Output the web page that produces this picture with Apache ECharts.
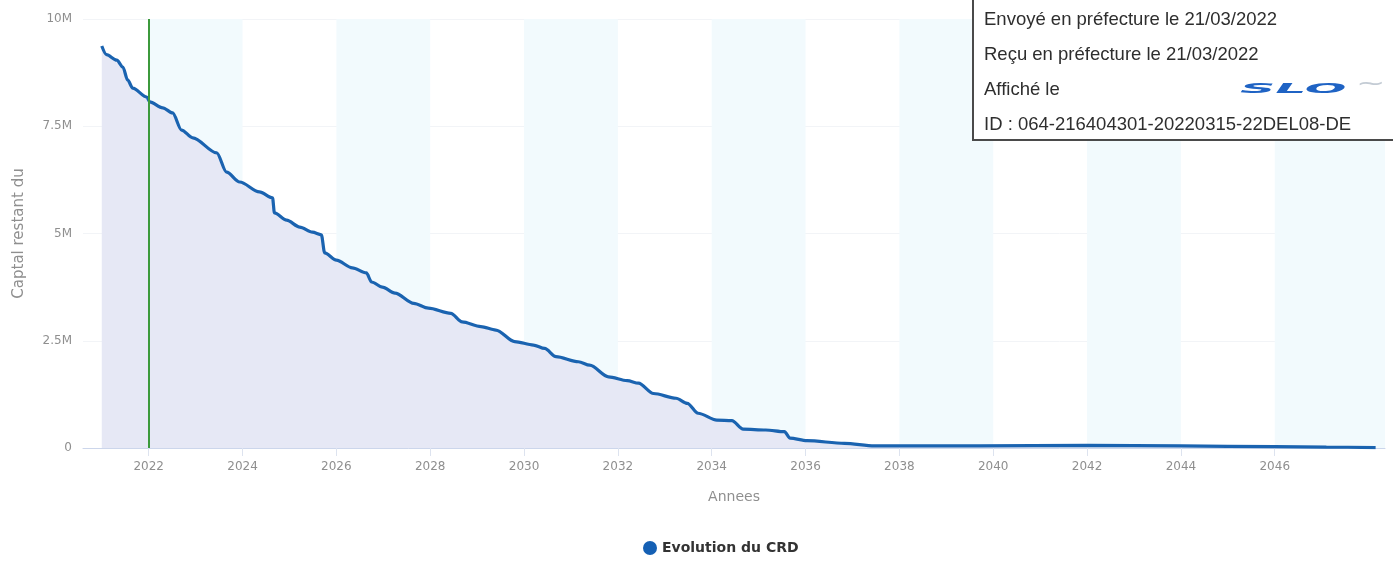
<!DOCTYPE html>
<html>
<head>
<meta charset="utf-8">
<title>Evolution du CRD</title>
<script src="https://cdn.jsdelivr.net/npm/echarts@6/dist/echarts.min.js"></script>
<style>
  html, body { margin: 0; padding: 0; background: #ffffff; }
  #chart { width: 1393px; height: 562px; }
</style>
</head>
<body>
<div id="chart"></div>
<script>
// Capital restant dû (en millions d'euros), relevé par date décimale
const years = [
  2021.00, 2021.10, 2021.32, 2021.45, 2021.55, 2021.66, 2021.96, 2022.02,
  2022.30, 2022.51, 2022.70, 2022.94, 2023.45, 2023.66, 2023.94, 2024.36,
  2024.64, 2024.68, 2024.94, 2025.22, 2025.49, 2025.68, 2025.75, 2026.00,
  2026.34, 2026.64, 2026.75, 2026.98, 2027.25, 2027.65, 2027.96, 2028.44,
  2028.68, 2029.08, 2029.40, 2029.80, 2030.20, 2030.44, 2030.68, 2031.16,
  2031.40, 2031.80, 2032.20, 2032.44, 2032.76, 2033.24, 2033.48, 2033.71,
  2034.11, 2034.43, 2034.67, 2035.15, 2035.55, 2035.67, 2036.03, 2036.83,
  2037.47, 2039.70, 2042.00, 2044.00, 2046.00, 2047.10, 2048.15
];
const crd = [
  9.37, 9.17, 9.04, 8.88, 8.58, 8.39, 8.18, 8.07,
  7.93, 7.81, 7.41, 7.23, 6.88, 6.43, 6.20, 5.97,
  5.83, 5.48, 5.31, 5.15, 5.03, 4.97, 4.55, 4.38,
  4.20, 4.08, 3.87, 3.75, 3.61, 3.37, 3.26, 3.14,
  2.94, 2.83, 2.75, 2.48, 2.40, 2.32, 2.13, 2.01,
  1.93, 1.66, 1.57, 1.51, 1.27, 1.16, 1.04, 0.81,
  0.65, 0.64, 0.44, 0.42, 0.38, 0.23, 0.17, 0.11,
  0.05, 0.05, 0.06, 0.05, 0.03, 0.02, 0.01
];
const tickYears = [2022, 2024, 2026, 2028, 2030, 2032, 2034, 2036, 2038, 2040, 2042, 2044, 2046];
const bandRanges = [[2022, 2024], [2026, 2028], [2030, 2032], [2034, 2036], [2038, 2040], [2042, 2044], [2046, 2048.35]];
const markerYear = 2022;
const stampLines = [
  'Envoyé en préfecture le 21/03/2022',
  'Reçu en préfecture le 21/03/2022',
  'Affiché le',
  'ID : 064-216404301-20220315-22DEL08-DE'
];

const seriesData = years.map((y, i) => [y, crd[i] * 1e6]);

const chart = echarts.init(document.getElementById('chart'), null, { renderer: 'canvas' });

const labelFont = 'DejaVu Sans';

chart.setOption({
  animation: false,
  backgroundColor: '#ffffff',
  grid: { left: 83, right: 8, top: 19, bottom: 114, containLabel: false },
  xAxis: {
    type: 'value',
    min: 2020.6,
    max: 2048.35,
    name: 'Annees',
    nameLocation: 'middle',
    nameGap: 42,
    nameTextStyle: { color: '#8f8f8f', fontSize: 14, fontFamily: labelFont },
    axisLine: { show: true, lineStyle: { color: '#ccd6eb', width: 1 } },
    axisTick: { show: true, length: 8, lineStyle: { color: '#dde3ef' }, customValues: tickYears },
    axisLabel: {
      color: '#8f8f8f', fontSize: 12, fontFamily: labelFont, margin: 13,
      customValues: tickYears,
      formatter: v => String(Math.round(v))
    },
    splitLine: { show: false }
  },
  yAxis: {
    type: 'value',
    min: 0,
    max: 10e6,
    interval: 2.5e6,
    name: 'Captal restant du',
    nameLocation: 'middle',
    nameGap: 56,
    nameTextStyle: { color: '#8f8f8f', fontSize: 15, fontFamily: labelFont },
    axisLine: { show: false },
    axisTick: { show: false },
    axisLabel: {
      color: '#8f8f8f', fontSize: 12, fontFamily: labelFont, margin: 11,
      formatter: v => v === 0 ? '0' : (v / 1e6) + 'M'
    },
    splitLine: { show: true, lineStyle: { color: '#f2f4f7', width: 1 } }
  },
  legend: {
    data: [{ name: 'Evolution du CRD', icon: 'circle' }],
    left: 638,
    top: 536,
    itemWidth: 14,
    itemHeight: 14,
    itemGap: 8,
    textStyle: { color: '#333333', fontSize: 14, fontWeight: 'bold', fontFamily: labelFont }
  },
  series: [
    {
      // bandes verticales alternées, derrière la courbe
      name: 'bandes',
      type: 'line',
      data: [],
      z: 1,
      silent: true,
      markArea: {
        silent: true,
        itemStyle: { color: '#f2fafd' },
        data: bandRanges.map(r => [{ xAxis: r[0] }, { xAxis: r[1] }])
      }
    },
    {
      name: 'Evolution du CRD',
      type: 'line',
      data: seriesData,
      z: 3,
      showSymbol: false,
      symbol: 'circle',
      smooth: 0.3,
      smoothMonotone: 'x',
      itemStyle: { color: '#1560b4' },
      lineStyle: { color: '#1a63b0', width: 3.2 },
      areaStyle: { color: '#e6e8f5', opacity: 1 },
      markLine: {
        silent: true,
        symbol: ['none', 'none'],
        label: { show: false },
        lineStyle: { color: '#3c9a3c', width: 2, type: 'solid' },
        data: [{ xAxis: markerYear }]
      }
    }
  ],
  graphic: [
    {
      type: 'rect',
      z: 100,
      shape: { x: 973, y: -4, width: 440, height: 144 },
      style: { fill: '#ffffff', stroke: '#4a4a4a', lineWidth: 2 }
    },
    ...stampLines.map((t, i) => ({
      type: 'text',
      z: 101,
      x: 984,
      y: [20, 55, 90, 125][i],
      style: {
        text: t,
        fill: '#2e2e2e',
        font: '18.5px "Liberation Sans", Arial, sans-serif',
        verticalAlign: 'middle'
      }
    })),
    {
      type: 'text',
      z: 101,
      x: 1240,
      y: 89,
      scaleX: 3.5,
      style: {
        text: 'SLO',
        fill: '#1f63c4',
        font: 'italic 900 14px "DejaVu Sans", sans-serif',
        verticalAlign: 'middle'
      }
    },
    {
      type: 'text',
      z: 101,
      x: 1356,
      y: 84,
      scaleX: 1.6,
      style: {
        text: '~',
        fill: '#c3cbd4',
        font: '22px "DejaVu Sans", sans-serif',
        verticalAlign: 'middle'
      }
    }
  ]
});
</script>
</body>
</html>
